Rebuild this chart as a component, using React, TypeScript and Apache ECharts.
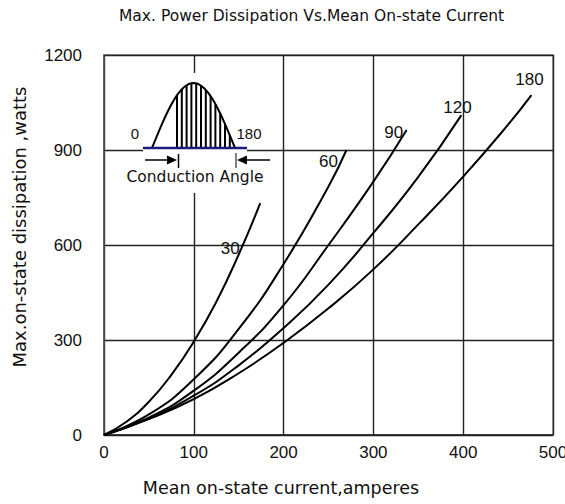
import React, { useEffect, useRef } from "react";
import * as echarts from "echarts";

const xTicks = [0, 100, 200, 300, 400, 500];
const yTicks = [0, 300, 600, 900, 1200];

const angleNames = ["30", "60", "90", "120", "180"];
const current30 = [0, 25, 50, 75, 100, 125, 150, 174];
const power30 = [0, 42, 105, 190, 295, 420, 570, 732];
const current60 = [0, 50, 100, 150, 200, 250, 270];
const power60 = [0, 65, 176, 335, 540, 785, 900];
const current90 = [0, 50, 100, 150, 200, 250, 300, 337];
const power90 = [0, 55, 140, 260, 410, 600, 800, 963];
const current120 = [0, 50, 100, 150, 200, 250, 300, 350, 398];
const power120 = [0, 53, 124, 220, 338, 475, 638, 815, 1010];
const current180 = [0, 50, 100, 150, 200, 250, 300, 350, 400, 450, 476];
const power180 = [0, 50, 113, 195, 291, 400, 523, 665, 816, 980, 1073];

const titleText = "Max. Power Dissipation Vs.Mean On-state Current";
const xName = "Mean on-state current,amperes";
const yName = "Max.on-state dissipation ,watts";
const insetText = "Conduction Angle";

const FONT = "'Liberation Sans', Arial, sans-serif";
const WIDE = "'DejaVu Sans', sans-serif";

const curves = [
  { x: current30, y: power30, off: [-30, 45] },
  { x: current60, y: power60, off: [-18, 11] },
  { x: current90, y: power90, off: [-13, 2] },
  { x: current120, y: power120, off: [-4, -8] },
  { x: current180, y: power180, off: [-2, -16] },
];

function buildInset() {
  const els: any[] = [];
  const x0 = 152, x1 = 235, base = 148, amp = 65;
  const hump: number[][] = [];
  for (let i = 0; i <= 40; i++) {
    const x = x0 + ((x1 - x0) * i) / 40;
    hump.push([x, base - amp * Math.sin((Math.PI * (x - x0)) / (x1 - x0))]);
  }
  els.push({ type: "rect", shape: { x: 143, y: 73, width: 104, height: 120 }, style: { fill: "#fff" }, z: 10 });
  for (let x = 177; x <= 233; x += 4.8) {
    const yTop = base - amp * Math.sin((Math.PI * (x - x0)) / (x1 - x0));
    els.push({ type: "line", shape: { x1: x, y1: base, x2: x, y2: yTop }, style: { stroke: "#000", lineWidth: 2 }, z: 11 });
  }
  els.push({ type: "polyline", shape: { points: hump }, style: { stroke: "#000", lineWidth: 2, fill: null }, z: 11 });
  els.push({ type: "line", shape: { x1: 143, y1: base, x2: 247, y2: base }, style: { stroke: "#1c1c7a", lineWidth: 2.5 }, z: 12 });
  els.push({ type: "line", shape: { x1: 145, y1: 160, x2: 170, y2: 160 }, style: { stroke: "#000", lineWidth: 1.5 }, z: 11 });
  els.push({ type: "polygon", shape: { points: [[167, 155.5], [177, 160], [167, 164.5]] }, style: { fill: "#000" }, z: 11 });
  els.push({ type: "line", shape: { x1: 178.5, y1: 154, x2: 178.5, y2: 168 }, style: { stroke: "#000", lineWidth: 1.5 }, z: 11 });
  els.push({ type: "line", shape: { x1: 270, y1: 160, x2: 244, y2: 160 }, style: { stroke: "#000", lineWidth: 1.5 }, z: 11 });
  els.push({ type: "polygon", shape: { points: [[247, 155.5], [237, 160], [247, 164.5]] }, style: { fill: "#000" }, z: 11 });
  els.push({ type: "line", shape: { x1: 236, y1: 153, x2: 236, y2: 168 }, style: { stroke: "#000", lineWidth: 1 }, z: 11 });
  els.push({ type: "text", x: 135, y: 133, style: { text: "0", font: `15px ${FONT}`, fill: "#111", align: "center", verticalAlign: "middle" }, z: 12 });
  els.push({ type: "text", x: 249, y: 133, style: { text: "180", font: `15px ${FONT}`, fill: "#111", align: "center", verticalAlign: "middle" }, z: 12 });
  els.push({ type: "text", x: 195, y: 177, style: { text: insetText, font: `15.5px ${WIDE}`, fill: "#111", align: "center", verticalAlign: "middle" }, z: 12 });
  return els;
}

export default function App() {
  const ref = useRef<HTMLDivElement>(null);
  useEffect(() => {
    if (!ref.current) return;
    const chart = echarts.init(ref.current, undefined, { renderer: "svg" });
    const series = curves.map((c, i) => ({
      type: "line",
      name: angleNames[i],
      data: c.x.map((v, j) => [v, c.y[j]]),
      smooth: true,
      showSymbol: false,
      lineStyle: { color: "#000", width: 2 },
      z: 5,
      markPoint: {
        symbol: "circle",
        symbolSize: 1,
        itemStyle: { color: "rgba(0,0,0,0)" },
        label: {
          show: true,
          formatter: angleNames[i],
          position: "inside",
          offset: c.off,
          color: "#111",
          fontSize: 17,
          fontFamily: FONT,
        },
        data: [{ coord: [c.x[c.x.length - 1], c.y[c.y.length - 1]] }],
      },
    }));
    chart.setOption({
      animation: false,
      backgroundColor: "#fff",
      grid: {
        left: 104, right: 12, top: 55, bottom: 69,
        containLabel: false, outerBoundsMode: "none",
        show: true, borderColor: "#777", borderWidth: 1.3,
      },
      xAxis: {
        type: "value",
        min: xTicks[0],
        max: xTicks[xTicks.length - 1],
        interval: 100,
        axisLine: { show: true, lineStyle: { color: "#222", width: 1.5 } },
        axisTick: { show: false },
        axisLabel: { color: "#111", fontSize: 17, fontFamily: FONT, margin: 9, formatter: (v: number) => String(v) },
        splitLine: { show: true, lineStyle: { color: "#222", width: 1.4 } },
      },
      yAxis: {
        type: "value",
        min: yTicks[0],
        max: yTicks[yTicks.length - 1],
        interval: 300,
        axisLine: { show: true, lineStyle: { color: "#555", width: 1.5 } },
        axisTick: { show: false },
        axisLabel: { color: "#111", fontSize: 17, fontFamily: FONT, margin: 22, formatter: (v: number) => String(v) },
        splitLine: { show: true, lineStyle: { color: "#222", width: 1.4 } },
      },
      series,
      graphic: [
        { type: "text", x: 119, y: 16, style: { text: titleText, font: `15.5px ${WIDE}`, fill: "#111", align: "left", verticalAlign: "middle" } },
        { type: "text", x: 281, y: 488, style: { text: xName, font: `17.5px ${WIDE}`, fill: "#111", align: "center", verticalAlign: "middle" } },
        { type: "text", x: 19, y: 227, rotation: Math.PI / 2, style: { text: yName, font: `18px ${WIDE}`, fill: "#111", align: "center", verticalAlign: "middle" } },
        ...buildInset(),
      ],
    });
    return () => chart.dispose();
  }, []);
  return <div ref={ref} style={{ position: "fixed", left: 0, top: 0, width: 565, height: 504 }} />;
}
